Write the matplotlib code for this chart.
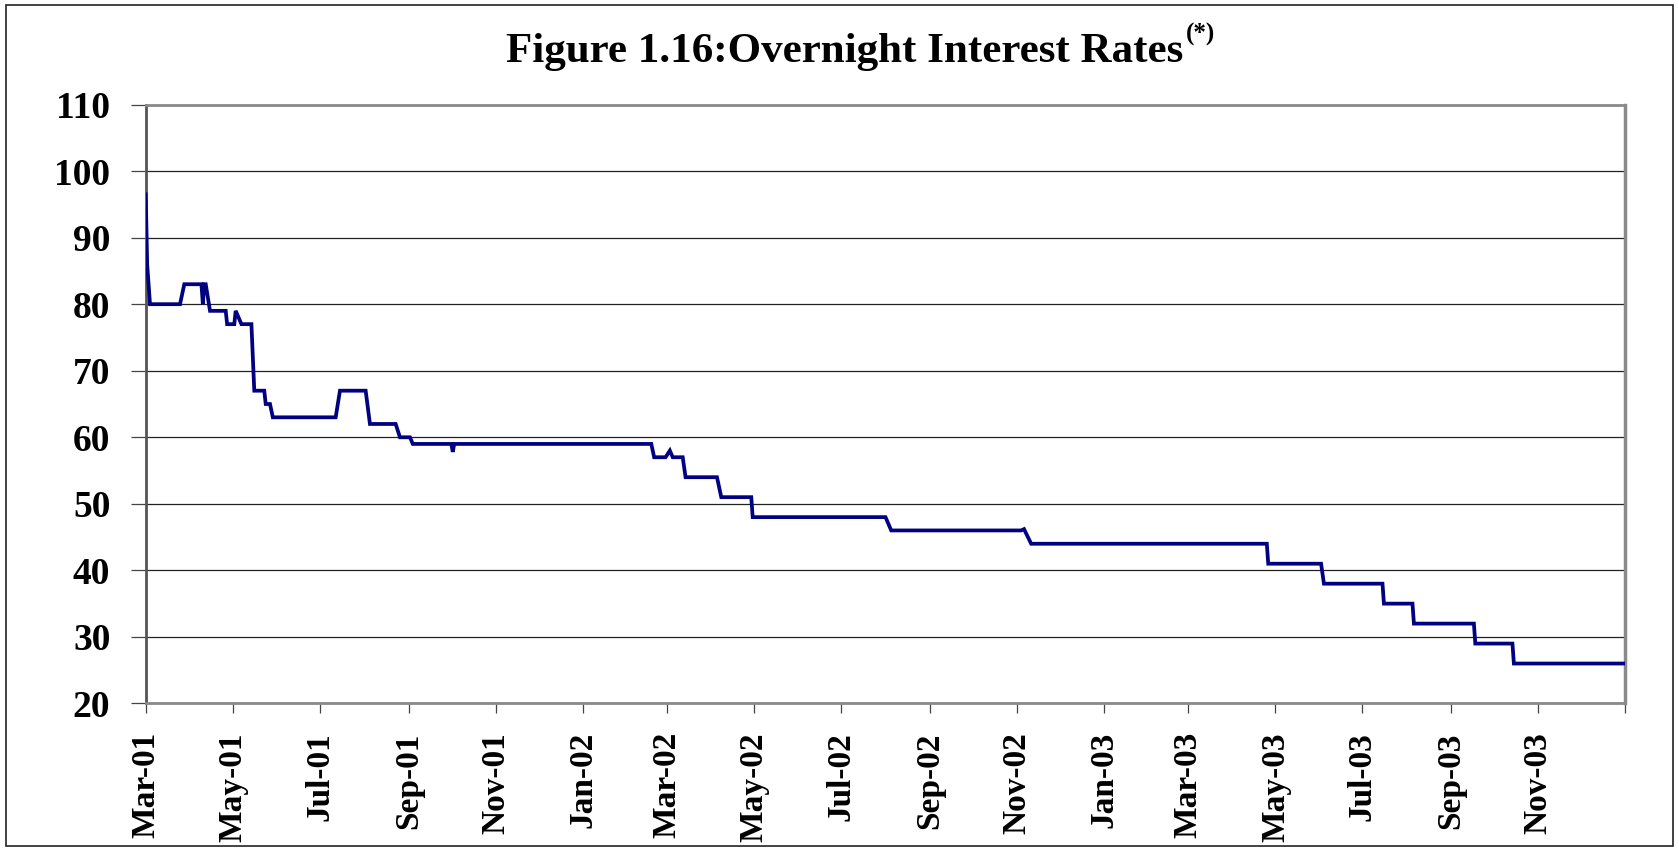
import matplotlib
matplotlib.use("Agg")
import matplotlib.pyplot as plt
import pandas as pd
from matplotlib.patches import Rectangle

# turning points of the daily overnight rate
dates = ["2001-03-01", "2001-03-02", "2001-03-04", "2001-03-25", "2001-03-28",
         "2001-04-09", "2001-04-10", "2001-04-11", "2001-04-12", "2001-04-15",
         "2001-04-26", "2001-04-27", "2001-05-02", "2001-05-03", "2001-05-07",
         "2001-05-14", "2001-05-16", "2001-05-23", "2001-05-24", "2001-05-27",
         "2001-05-29", "2001-07-12", "2001-07-15", "2001-08-02", "2001-08-05",
         "2001-08-23", "2001-08-26", "2001-09-02", "2001-09-04", "2001-10-01",
         "2001-10-02", "2001-10-03", "2002-02-18", "2002-02-20", "2002-02-28",
         "2002-03-03", "2002-03-05", "2002-03-12", "2002-03-14", "2002-04-05",
         "2002-04-08", "2002-04-29", "2002-04-30", "2002-08-01", "2002-08-05",
         "2002-11-04", "2002-11-06", "2002-11-11", "2003-04-25", "2003-04-26",
         "2003-06-02", "2003-06-04", "2003-07-15", "2003-07-16", "2003-08-05",
         "2003-08-06", "2003-09-17", "2003-09-18", "2003-10-14", "2003-10-15",
         "2003-12-31"]
rates = [96.5, 86, 80, 80, 83,
         83, 80, 83, 83, 79,
         79, 77, 77, 79, 77,
         77, 67, 67, 65, 65,
         63, 63, 67, 67, 62,
         62, 60, 60, 59, 59,
         57.8, 59, 59, 57, 57,
         58, 57, 57, 54, 54,
         51, 51, 48, 48, 46,
         46, 46.2, 44, 44, 41,
         41, 38, 38, 35, 35,
         32, 32, 29, 29, 26,
         26]

tick_dates = pd.date_range("2001-03-01", "2004-01-01", freq="2MS")
tick_labels = ["Mar-01", "May-01", "Jul-01", "Sep-01", "Nov-01", "Jan-02",
               "Mar-02", "May-02", "Jul-02", "Sep-02", "Nov-02", "Jan-03",
               "Mar-03", "May-03", "Jul-03", "Sep-03", "Nov-03", ""]
y_ticks = [20, 30, 40, 50, 60, 70, 80, 90, 100, 110]

plt.rcParams["font.family"] = ["Liberation Serif", "DejaVu Serif"]
plt.rcParams["font.weight"] = "bold"

fig = plt.figure(figsize=(16.79, 8.5), dpi=100)
ax = fig.add_axes([0.0868, 0.1724, 0.968 - 0.0868, 0.877 - 0.1724])

ax.plot(pd.to_datetime(dates), rates, color="#000080", lw=2.7,
        solid_joinstyle="miter", zorder=3)

ax.set_xlim(pd.Timestamp("2001-03-01"), pd.Timestamp("2004-01-01"))
ax.set_ylim(20, 110)
ax.set_yticks(y_ticks)
ax.set_xticks(tick_dates)
ax.set_xticklabels(tick_labels, rotation=90, fontsize=24, fontweight="bold")
ax.set_yticklabels([str(v) for v in y_ticks], fontsize=27, fontweight="bold")

ax.yaxis.grid(True, color="#222222", lw=0.9)
ax.set_axisbelow(True)
ax.tick_params(axis="y", length=10.5, width=0.9, color="#444444", pad=15)
ax.tick_params(axis="x", length=7.2, width=0.9, color="#444444", pad=13.5)

ax.spines["left"].set_color("#555555")
ax.spines["left"].set_linewidth(2.0)
for s in ["top", "right", "bottom"]:
    ax.spines[s].set_color("#8a8a8a")
    ax.spines[s].set_linewidth(2.0)
ax.spines["right"].set_linewidth(2.5)

t = fig.text(0.503, 0.927, "Figure 1.16:Overnight Interest Rates",
             ha="center", va="baseline", fontsize=31, fontweight="bold")
ax.annotate("(*)", xy=(1.0, 0.66), xycoords=t, xytext=(2, 0),
            textcoords="offset points", ha="left", va="bottom",
            fontsize=18, fontweight="bold")

fig.patches.append(Rectangle((6 / 1679, 4 / 850), 1667 / 1679, 841 / 850,
                             transform=fig.transFigure, fill=False,
                             edgecolor="#222222", lw=1.2))

fig.savefig("out.png", dpi=100, facecolor="white")
